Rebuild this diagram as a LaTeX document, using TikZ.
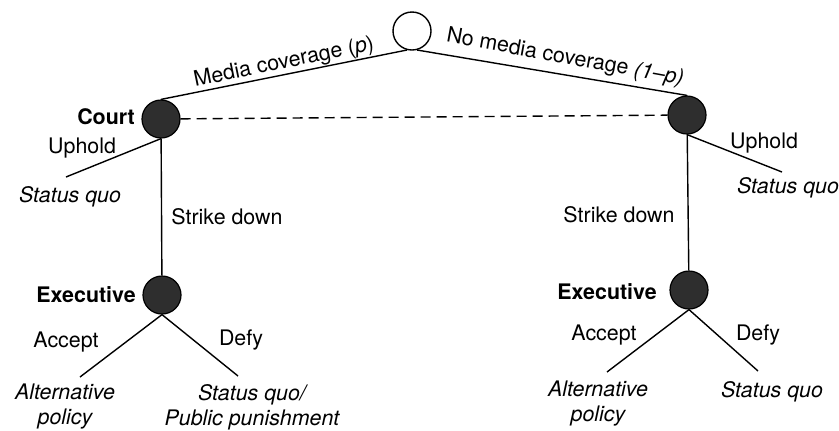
\documentclass[tikz,border=0pt]{standalone}
\usepackage{fontspec}
\setmainfont{TeX Gyre Heros}
\begin{document}
\begin{tikzpicture}[x=0.5pt,y=-0.5pt,
  chance/.style={circle,draw=black,line width=0.7pt,fill=white,minimum size=19pt,inner sep=0pt},
  player/.style={circle,fill=black!82,draw=black,line width=0.6pt,minimum size=19pt,inner sep=0pt},
  lbl/.style={font=\fontsize{10.7}{13}\selectfont,inner sep=0pt},
  bold/.style={font=\fontsize{10.7}{13}\selectfont\bfseries,inner sep=0pt},
  pay/.style={font=\fontsize{10.7}{12.5}\selectfont\itshape,inner sep=0pt,align=center},
  edge/.style={line width=0.7pt}]
\useasboundingbox (0,0) rectangle (839,430);
% nodes
\node[chance] (root) at (412,31) {};
\node[player] (lc) at (161,119) {};
\node[player] (rc) at (687,115) {};
\node[player] (le) at (162,295) {};
\node[player] (re) at (689,290) {};
\coordinate (luph) at (66,177);
\coordinate (ruph) at (782,172);
\coordinate (lacc) at (80,377);
\coordinate (ldef) at (238,376);
\coordinate (racc) at (607,372);
\coordinate (rdef) at (758,371);
% edges
\draw[edge] (root.255) -- (lc.north);
\draw[edge] (root.285) -- (rc.north);
\draw[edge,dashed,dash pattern=on 5pt off 3pt] (lc) -- (rc);
\draw[edge] (lc.south) -- (luph);
\draw[edge] (rc.south) -- (ruph);
\draw[edge] (lc) -- (le);
\draw[edge] (rc) -- (re);
\draw[edge] (le.south) -- (lacc);
\draw[edge] (le.south) -- (ldef);
\draw[edge] (re.south) -- (racc);
\draw[edge] (re.south) -- (rdef);
% labels
\node[lbl,rotate=11.7] (lmc) at (284,63) {Media coverage (\textit{p})};
\node[lbl,rotate=-10.4] (rmc) at (565,58) {No media coverage \textit{(1--p)}};
\node[bold] (lcourt) at (106,117) {Court};
\node[lbl] (lup) at (82,148) {Uphold};
\node[lbl] (rup) at (764,143) {Uphold};
\node[pay] (lsq) at (70,197) {Status quo};
\node[pay] (rsq) at (788,188) {Status quo};
\node[lbl] (lsd) at (227,217) {Strike down};
\node[lbl] (rsd) at (619,215) {Strike down};
\node[bold] (lex) at (86,295) {Executive};
\node[bold] (rex) at (607,292) {Executive};
\node[lbl] (lac) at (66,342) {Accept};
\node[lbl] (ldf) at (241,340) {Defy};
\node[lbl] (rac) at (604,335) {Accept};
\node[lbl] (rdf) at (758,335) {Defy};
\node[pay] (lalt) at (65,407) {Alternative\\policy};
\node[pay] (lpun) at (252,407) {Status quo/\\Public punishment};
\node[pay] (ralt) at (598,404) {Alternative\\policy};
\node[pay] (rsq2) at (772,392) {Status quo};
\end{tikzpicture}
\end{document}
